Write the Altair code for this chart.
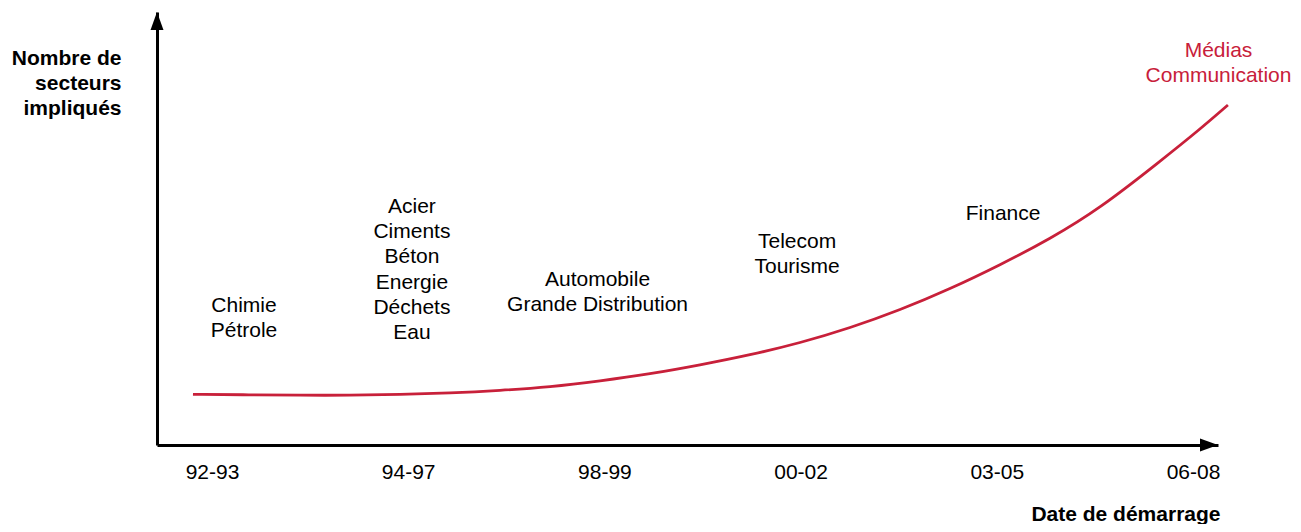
import json
import altair as alt
import pandas as pd

# ---- data -------------------------------------------------------------
periods = ["92-93", "94-97", "98-99", "00-02", "03-05", "06-08"]
period_idx = [0, 1, 2, 3, 4, 5]

# red curve: x in period units, y = number of sectors (arbitrary units)
curve_x = [-0.097, 0.194, 0.449, 0.703, 0.958, 1.213, 1.468, 1.723, 1.978,
           2.232, 2.487, 2.742, 2.997, 3.252, 3.507, 3.761, 4.016, 4.271,
           4.526, 4.832, 5.036, 5.178]
curve_y = [11.66, 11.54, 11.43, 11.43, 11.61, 11.95, 12.53, 13.33, 14.71,
           16.32, 18.39, 20.69, 23.45, 26.90, 31.03, 35.86, 41.38, 47.36,
           54.40, 65.20, 72.60, 78.16]

# sector labels (one entry per text line)
label_text = ["Chimie", "Pétrole",
              "Acier", "Ciments", "Béton", "Energie", "Déchets", "Eau",
              "Automobile", "Grande Distribution",
              "Telecom", "Tourisme",
              "Finance",
              "Médias", "Communication"]
label_x = [0.163, 0.163,
           1.019, 1.019, 1.019, 1.019, 1.019, 1.019,
           1.965, 1.965,
           2.982, 2.982,
           4.032,
           5.130, 5.130]
label_y = [31.95, 26.20,
           54.78, 48.97, 43.15, 37.34, 31.52, 25.71,
           37.93, 32.18,
           46.67, 40.92,
           53.10,
           90.64, 84.94]
label_kind = ["n"] * 13 + ["h", "h"]

y_title = ["Nombre de", "secteurs", "impliqués"]
x_title = "Date de démarrage"

# ---- scales -----------------------------------------------------------
X_MIN, X_MAX = -0.2803, 5.1274
Y_MIN, Y_MAX = 0.0, 99.54
RED = "#C8203A"
FONT = "Liberation Sans"

xs = alt.Scale(domain=[X_MIN, X_MAX], nice=False, zero=False)
ys = alt.Scale(domain=[Y_MIN, Y_MAX], nice=False, zero=False)

x_axis = alt.Axis(
    values=period_idx, labelExpr=json.dumps(periods) + "[datum.value]",
    grid=False, ticks=False, tickSize=0, labelPadding=16, labelFontSize=21,
    labelFont=FONT, labelColor="black", labelFlush=False,
    domainColor="black", domainWidth=3,
    title=x_title, titleFont=FONT, titleFontSize=21, titleFontWeight="bold",
    titleColor="black", titleAlign="right", titleBaseline="alphabetic",
    titleX=1063, titleY=75.5)
y_axis = alt.Axis(
    labels=False, ticks=False, grid=False, domainColor="black", domainWidth=3,
    title=y_title, titleFont=FONT, titleFontSize=21, titleFontWeight="bold",
    titleColor="black", titleAngle=0, titleAlign="right",
    titleBaseline="alphabetic", titleLineHeight=25,
    titleX=-36, titleY=52.7)

X_ENC = alt.X("x:Q", scale=xs, axis=x_axis)
Y_ENC = alt.Y("y:Q", scale=ys, axis=y_axis)

curve_df = pd.DataFrame({"x": curve_x, "y": curve_y})
labels_df = pd.DataFrame({"x": label_x, "y": label_y, "t": label_text, "k": label_kind})
arrows_df = pd.DataFrame({
    "x": [X_MIN, X_MAX],
    "y": [Y_MAX, Y_MIN],
    "s": ["M0,0L-0.36,1L0.36,1Z", "M0,0L-1,-0.36L-1,0.36Z"],
})

curve = alt.Chart(curve_df).mark_line(
    color=RED, strokeWidth=2.8, interpolate="basis"
).encode(x=X_ENC, y=Y_ENC)

texts = alt.Chart(labels_df).mark_text(
    font=FONT, fontSize=21, align="center", baseline="middle"
).encode(
    x=X_ENC, y=Y_ENC,
    text="t:N",
    color=alt.Color("k:N", scale=alt.Scale(domain=["n", "h"], range=["black", RED]), legend=None),
)

arrows = alt.Chart(arrows_df).mark_point(
    filled=True, opacity=1, size=1296, color="black", strokeWidth=0
).encode(
    x=X_ENC, y=Y_ENC,
    shape=alt.Shape("s:N", scale=None, legend=None),
)

chart = alt.layer(curve, texts, arrows).properties(
    width=1061, height=433,
    autosize=alt.AutoSizeParams(type="none"),
    padding={"left": 149, "top": 4, "right": 75, "bottom": 79},
    background="white",
).configure_view(stroke=None)

chart.save("out.html", embed_options={"renderer": "svg", "actions": False})
